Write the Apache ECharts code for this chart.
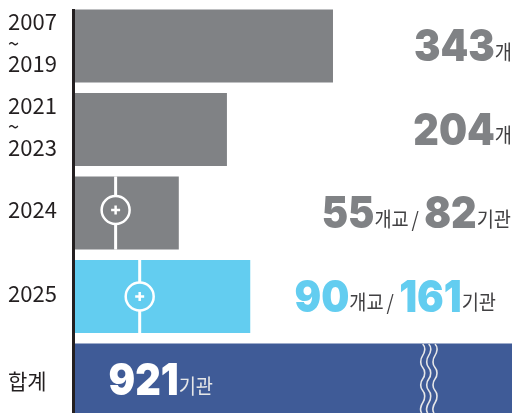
<!DOCTYPE html>
<html>
<head>
<meta charset="utf-8">
<script src="https://cdn.jsdelivr.net/npm/echarts@6/dist/echarts.min.js"></script>
<style>
  html, body { margin: 0; padding: 0; background: #fff; }
  #main { width: 512px; height: 413px; }
</style>
</head>
<body>
<div id="main"></div>
<script>
// 연도 구간
const categories = ['2007\n~\n2019', '2021\n~\n2023', '2024', '2025', '합계'];
// 막대 길이 (그림에서 읽은 값, 합계는 물결 표시로 잘림)
const firstPart = [343, 202, 54, 86, 921];
const secondPart = [0, 0, 84, 147, 0];
// 표시 숫자
const schools = [343, 204, 55, 90, 921];
const agencies = [null, null, 82, 161, null];
const barColors = ['#808285', '#808285', '#808285', '#63cdf0', '#3f5b97'];

const FONT = '"Noto Sans CJK KR"';
const NUM_FONT = 'Inter';
const labelRight = [512, 512, 511, 496, 213];

function numStyle(color) {
  return { fontFamily: NUM_FONT, fontWeight: 900, fontSize: 43.5, fill: color };
}
const unitStyle = { fontFamily: FONT, fontSize: 20.5, fill: '#414042', padding: [8, 0, 0, 0] };

function labelText(i) {
  if (i === 4) return '{w|' + schools[i] + '}{wu|기관}';
  const n = i === 3 ? 'b' : 'g';
  if (agencies[i] == null) return '{' + n + '|' + schools[i] + '}{u|개}';
  return '{' + n + '|' + schools[i] + '}{u|개교}{s|/}{' + n + '|' + agencies[i] + '}{u|기관}';
}

function wave(x) {
  return {
    type: 'polyline',
    z: 10,
    shape: {
      smooth: 0.6,
      points: [[x, 344], [x + 2, 350], [x - 2, 362], [x + 2, 373], [x - 2, 385], [x + 2, 396], [x - 2, 408], [x - 1, 413]]
    },
    style: { stroke: '#e6e7e8', lineWidth: 1.6, fill: null }
  };
}

const chart = echarts.init(document.getElementById('main'));
chart.setOption({
  animation: false,
  grid: { left: 75, right: 0, top: 4.25, height: 417.5, outerBoundsMode: 'none' },
  xAxis: { type: 'value', min: 0, max: 581, show: false },
  yAxis: {
    type: 'category',
    inverse: true,
    data: categories,
    axisLine: { show: false },
    axisTick: { show: false },
    axisLabel: {
      align: 'left',
      margin: 67,
      padding: [0, 0, 6, 0],
      formatter: function (v) {
        if (v === '합계') return '{h|' + v + '}';
        return v.split('\n').map(function (s) {
          return s === '~' ? '{t|~}' : '{y|' + s + '}';
        }).join('\n');
      },
      rich: {
        y: { fontFamily: FONT, fontSize: 22, color: '#231f20', lineHeight: 26 },
        t: { fontFamily: FONT, fontSize: 20, color: '#231f20', lineHeight: 16 },
        h: { fontFamily: FONT, fontSize: 21, color: '#231f20', lineHeight: 26, padding: [9, 0, 0, 0] }
      }
    }
  },
  series: [
    {
      name: 'first',
      type: 'bar',
      stack: 'total',
      barWidth: 73,
      silent: true,
      data: firstPart.map(function (v, i) {
        return { value: v, itemStyle: { color: barColors[i] } };
      })
    },
    {
      name: 'second',
      type: 'bar',
      stack: 'total',
      barWidth: 73,
      silent: true,
      data: secondPart.map(function (v, i) {
        return { value: v, itemStyle: { color: barColors[i] } };
      })
    },
    {
      // 나눔선 + 동그라미 플러스
      name: 'divider',
      type: 'custom',
      silent: true,
      clip: false,
      z: 5,
      data: [[firstPart[2], 2], [firstPart[3], 3]],
      renderItem: function (params, api) {
        const p = api.coord([api.value(0), api.value(1)]);
        const c = barColors[api.value(1)];
        const cy = api.value(1) === 2 ? p[1] - 3 : p[1]; // 2024 동그라미만 살짝 위
        const white = { stroke: '#fff', lineWidth: 3, fill: null };
        return {
          type: 'group',
          children: [
            { type: 'line', shape: { x1: p[0], y1: p[1] - 36.5, x2: p[0], y2: p[1] + 36.5 }, style: white },
            { type: 'circle', shape: { cx: p[0], cy: cy, r: 14 }, style: { stroke: '#fff', lineWidth: 2.5, fill: c } },
            { type: 'rect', shape: { x: p[0] - 4.5, y: cy - 1.25, width: 9, height: 2.5 }, style: { fill: '#fff' } },
            { type: 'rect', shape: { x: p[0] - 1.25, y: cy - 4.5, width: 2.5, height: 9 }, style: { fill: '#fff' } }
          ]
        };
      }
    },
    {
      name: 'labels',
      type: 'custom',
      silent: true,
      clip: false,
      z: 6,
      data: schools.map(function (v, i) { return [0, i]; }),
      renderItem: function (params, api) {
        const i = api.value(1);
        const y = api.coord([0, i])[1];
        return {
          type: 'text',
          x: labelRight[i],
          y: y + 2,
          scaleX: 0.91,
          style: {
            x: 0,
            y: 0,
            align: 'right',
            verticalAlign: 'middle',
            text: labelText(i),
            rich: {
              g: numStyle('#808285'),
              b: numStyle('#63cdf0'),
              w: numStyle('#ffffff'),
              u: unitStyle,
              s: Object.assign({}, unitStyle, { padding: [8, 6, 0, 3] }),
              wu: Object.assign({}, unitStyle, { fill: '#e6e7e8' })
            }
          }
        };
      }
    }
  ],
  graphic: [
    // 세로축 선
    { type: 'rect', shape: { x: 72, y: 9, width: 3, height: 404 }, style: { fill: '#231f20' }, z: 10 },
    // 합계 막대 물결 표시
    wave(422.7),
    wave(428.7),
    wave(435)
  ]
});
</script>
</body>
</html>
